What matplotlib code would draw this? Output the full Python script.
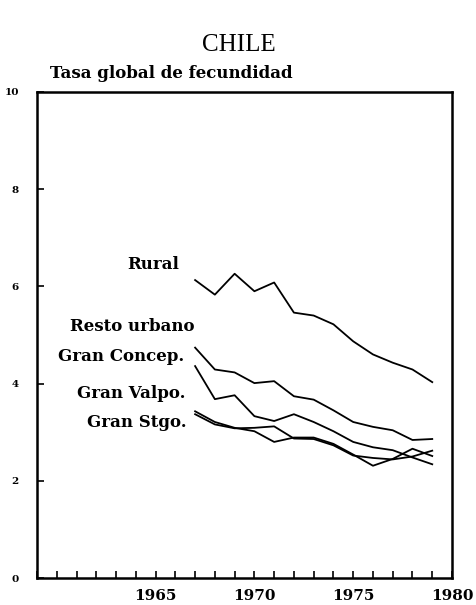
import matplotlib
matplotlib.use("Agg")
import matplotlib.pyplot as plt
from matplotlib.ticker import MultipleLocator

years = list(range(1967, 1980))

rural = [6.13, 5.83, 6.26, 5.90, 6.08, 5.46, 5.40, 5.22, 4.87, 4.60, 4.43, 4.29, 4.03]
resto_urbano = [4.74, 4.29, 4.23, 4.01, 4.05, 3.74, 3.67, 3.45, 3.21, 3.11, 3.04, 2.84, 2.86]
gran_concep = [4.36, 3.68, 3.76, 3.33, 3.23, 3.37, 3.21, 3.02, 2.80, 2.69, 2.63, 2.48, 2.34]
gran_valpo = [3.43, 3.21, 3.09, 3.02, 2.80, 2.89, 2.89, 2.76, 2.54, 2.31, 2.45, 2.66, 2.51]
gran_stgo = [3.37, 3.16, 3.08, 3.09, 3.12, 2.87, 2.86, 2.73, 2.52, 2.47, 2.44, 2.50, 2.62]

series = [rural, resto_urbano, gran_concep, gran_valpo, gran_stgo]
labels = ["Rural", "Resto urbano", "Gran Concep.", "Gran Valpo.", "Gran Stgo."]
# where each label sits (x end, y centre) in data units
label_x = [1966.2, 1966.95, 1966.45, 1966.5, 1966.55]
label_y = [6.45, 5.18, 4.56, 3.79, 3.19]

xticks = [1965, 1970, 1975, 1980]
yticks = [0, 2, 4, 6, 8, 10]

lab_font = "DejaVu Serif"

fig = plt.figure(figsize=(4.77, 6.05), dpi=100)
ax = fig.add_axes([0.0776, 0.0446, 0.87, 0.8034])

for s in series:
  ax.plot(years, s, color="black", lw=1.3, solid_joinstyle="round")

for lab, lx, ly in zip(labels, label_x, label_y):
  ax.text(lx, ly, lab, ha="right", va="center", fontsize=12,
          fontweight="bold", family=lab_font)

ax.set_xlim(1959, 1980)
ax.set_ylim(0, 10)
ax.set_xticks(xticks)
ax.set_xticklabels([str(x) for x in xticks], fontsize=11,
                   fontweight="bold", family=lab_font)
ax.xaxis.set_minor_locator(MultipleLocator(1))
ax.set_yticks(yticks)
ax.set_yticklabels([str(y) for y in yticks], fontsize=7.5,
                   fontweight="bold", family=lab_font)
ax.tick_params(axis="x", which="both", direction="in", length=5, width=1.2,
               pad=8)
ax.tick_params(axis="y", direction="in", length=5, width=1.2, pad=13)
for sp in ax.spines.values():
  sp.set_linewidth(1.8)

fig.text(0.5, 0.925, "CHILE", ha="center", va="center", fontsize=18,
         family="Liberation Serif")
fig.text(0.105, 0.878, "Tasa global de fecundidad", ha="left", va="center",
         fontsize=12, fontweight="bold", family=lab_font)

fig.savefig("out.png", dpi=100)
